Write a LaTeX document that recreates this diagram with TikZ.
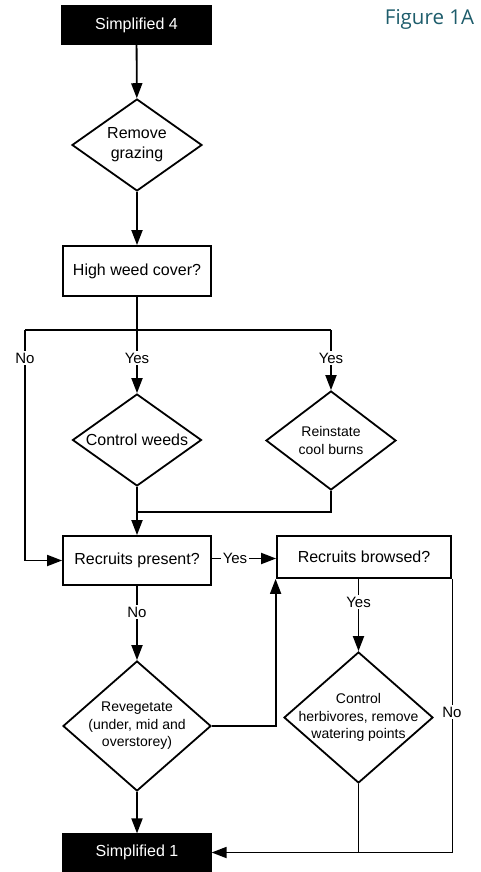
\documentclass[tikz,border=0pt]{standalone}
\usepackage{fontspec}
\setmainfont{Liberation Sans}
\newfontfamily\figfont{Open Sans}
\usetikzlibrary{shapes.geometric,arrows.meta}
\definecolor{figteal}{HTML}{1D5C6B}
\begin{document}
\begin{tikzpicture}[x=1pt,y=-1pt,
  line width=1.8pt,
  every node/.style={font=\fontsize{16}{20}\selectfont},
  arr/.style={-{Triangle[length=15pt,width=11pt]}},
  blackbox/.style={rectangle,draw=black,fill=black,text=white,line width=1.2pt,inner sep=0pt},
  qbox/.style={rectangle,draw=black,fill=white,inner sep=0pt},
  dia/.style={diamond,draw=black,fill=white,inner sep=0pt,align=center},
  dtext/.style={align=center,inner sep=0pt},
  small/.style={font=\fontsize{14}{17.4}\selectfont},
  lbl/.style={fill=white,inner sep=1.5pt,font=\fontsize{15}{18}\selectfont}
]
\useasboundingbox (0,0) rectangle (481,872);

\node[blackbox,minimum width=149pt,minimum height=38pt] (s4) at (136.5,25) {Simplified 4};
\node[dia,minimum width=130pt,minimum height=92pt] (rg) at (137,145) {};
\node[dtext] (rgt) at (rg) {Remove\\grazing};
\node[qbox,minimum width=148pt,minimum height=50pt] (hw) at (137,271) {High weed cover?};
\node[dia,minimum width=129pt,minimum height=92pt] (cw) at (137,440) {};
\node[dtext] (cwt) at (cw) {Control weeds};
\node[dia,minimum width=130pt,minimum height=99pt] (rb) at (331,440.5) {};
\node[dtext,small] (rbt) at (rb) {Reinstate\\cool burns};
\node[qbox,minimum width=148pt,minimum height=49pt] (rp) at (137,560.5) {Recruits present?};
\node[qbox,minimum width=174pt,minimum height=42pt] (rbw) at (364,557) {Recruits browsed?};
\node[dia,minimum width=148pt,minimum height=130pt] (rv) at (137,726) {};
\node[dtext,small] (rvt) at (rv) {Revegetate\\(under, mid and\\overstorey)};
\node[dia,minimum width=149pt,minimum height=131pt] (ch) at (358.5,717.5) {};
\node[dtext,small] (cht) at (ch) {Control\\herbivores, remove\\watering points};
\node[blackbox,minimum width=148pt,minimum height=37pt] (s1) at (137,852.5) {Simplified 1};

\node[text=figteal,font=\figfont\fontsize{20.5}{24}\selectfont,inner sep=0pt] (fig) at (429.5,19.5) {Figure 1A};

\coordinate (j) at (137,330);
\coordinate (jl) at (25,330);
\coordinate (jr) at (331,330);
\coordinate (jm) at (137,512);
\coordinate (bot) at (358.5,853);

\draw[arr] (s4) -- (rg);
\draw[arr] (rg) -- (hw);
\draw (hw.south) -- (j);
\draw (jl) -- (jr);
\draw[arr] (jl) -- (jl |- rp.west) -- (rp.west);
\node[lbl] (lno) at (25,358) {No};
\draw[arr] (j) -- (cw.north);
\node[lbl] (lyes1) at (137,358) {Yes};
\draw[arr] (jr) -- (rb.north);
\node[lbl] (lyes2) at (331,358) {Yes};
\draw (rb.south) -- (rb.south |- jm) -- (jm);
\draw[arr] (cw.south) -- (rp.north);
\draw[arr] (rp.east |- 0,558.5) -- (rbw.west |- 0,558.5);
\node[lbl] (lyes3) at (235,558.5) {Yes};
\draw[arr] (rp.south) -- (rv.north);
\node[lbl] (lno2) at (137,612) {No};
\draw[arr] (rv.east) -| ([xshift=-0.5pt]rbw.south west);
\draw[arr] (rbw.south -| ch.north) -- (ch.north);
\node[lbl] (lyes4) at (358.5,602) {Yes};
\draw (ch.south) -- (bot);
\draw[arr] ([xshift=0.5pt]rbw.south east) -- ([xshift=0.5pt]rbw.south east |- s1.east) -- (s1.east);
\node[lbl] (lno3) at (452,712) {No};
\draw[arr] (rv.south) -- (s1.north);
\end{tikzpicture}
\end{document}
